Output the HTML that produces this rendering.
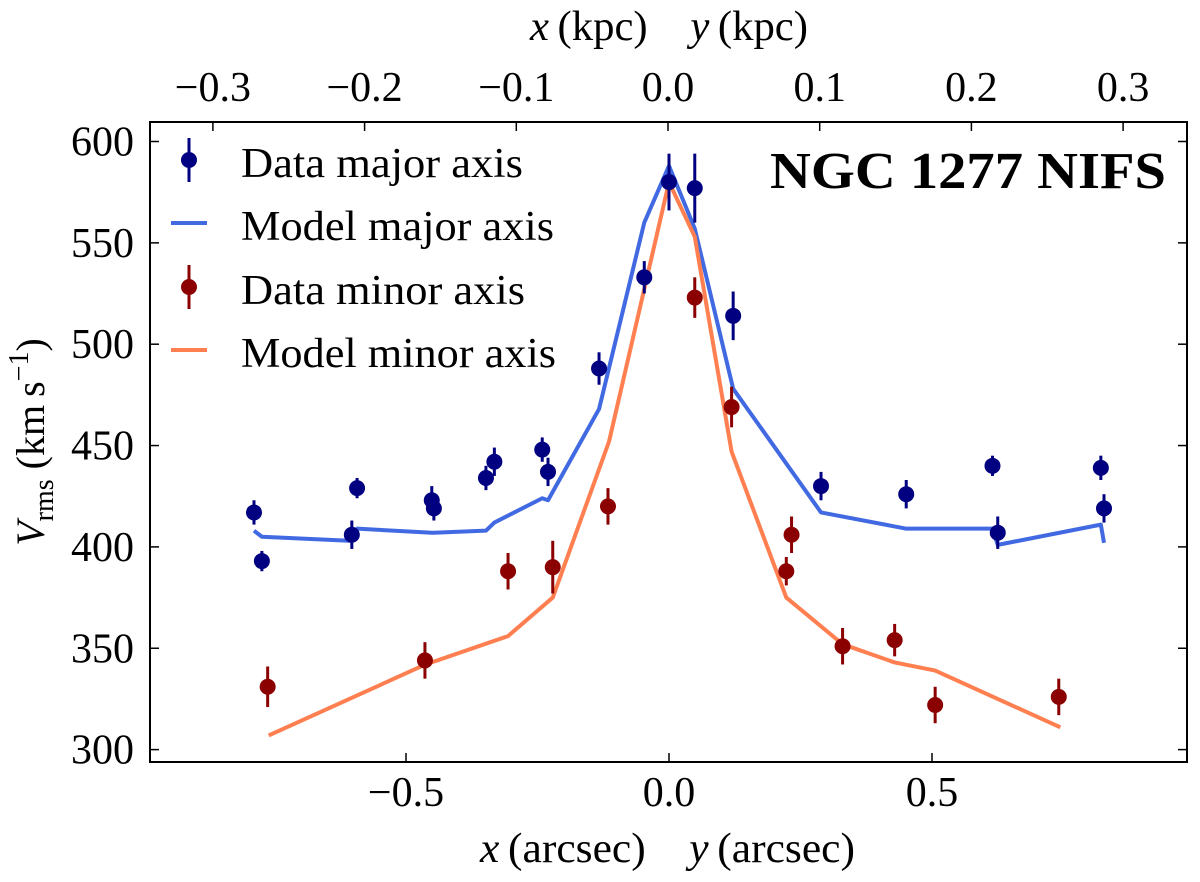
<!DOCTYPE html>
<html><head><meta charset="utf-8"><style>
body{margin:0;background:#fff;}
svg text{font-family:"Liberation Serif",serif;}
</style></head><body>
<svg id="chart" width="1200" height="877" xmlns="http://www.w3.org/2000/svg"></svg>
<script>
const majorX=[-0.789,-0.774,-0.603,-0.593,-0.451,-0.447,-0.348,-0.332,-0.241,-0.230,-0.133,-0.047,0,0.049,0.122,0.289,0.451,0.615,0.625,0.821,0.827];
const majorY=[417,393,406,429,423,419,434,442,448,437,488,533,580,577,514,430,426,440,407,439,419];
const majorErr=[6,5,7,5,7,6,6,7,6,7,8,8,14,17,12,7,7,5,8,6,7];
const minorX=[-0.763,-0.464,-0.306,-0.221,-0.116,0.049,0.119,0.223,0.233,0.330,0.429,0.506,0.741];
const minorY=[331,344,388,390,420,523,469,388,406,351,354,322,326];
const minorErr=[10,9,9,13,9,10,10,7,9,9,8,9,9];
const majorModelX=[-0.789,-0.774,-0.603,-0.593,-0.451,-0.447,-0.348,-0.332,-0.241,-0.230,-0.133,-0.047,0,0.049,0.122,0.289,0.451,0.615,0.625,0.821,0.827];
const majorModelY=[408,405,403,409,407,407,408,412,424,423,468,560,588,557,478,417,409,409,401,411,402];
const minorModelX=[-0.761,-0.463,-0.306,-0.221,-0.114,0,0.049,0.119,0.223,0.330,0.429,0.506,0.744];
const minorModelY=[307,342,356,375,452,580,553,447,375,352,343,339,311];
const bottomTicks=[-0.5,0.0,0.5];
const topTicks=[-0.3,-0.2,-0.1,0.0,0.1,0.2,0.3];
const yTicks=[300,350,400,450,500,550,600];

const NS="http://www.w3.org/2000/svg";
const svg=document.getElementById('chart');
const L=150,R=1187,T=122,B=762;
const X=a=>669+a*526;
const XT=k=>668+k*1517;
const Y=v=>141.5+(600-v)*2.027;
function el(t,a,p){const e=document.createElementNS(NS,t);for(const k in a)e.setAttribute(k,a[k]);(p||svg).appendChild(e);return e;}
function txt(s,x,y,size,anchor,p){const e=el('text',{x:x,y:y,'font-size':size,'text-anchor':anchor||'middle'},p);e.textContent=s;return e;}
function fit(e,w){e.setAttribute('textLength',w);e.setAttribute('lengthAdjust','spacingAndGlyphs');return e;}

const frame=el('rect',{x:L,y:T,width:R-L,height:B-T,fill:'none',stroke:'#000','stroke-width':2});



const fmt=v=>(v<0?'\u2212':'')+Math.abs(v).toFixed(1);
bottomTicks.forEach(t=>{el('line',{x1:X(t),x2:X(t),y1:B,y2:B-9,stroke:'#000','stroke-width':1.5});
 const e=txt(fmt(t),X(t),806,42);});
topTicks.forEach(t=>{el('line',{x1:XT(t),x2:XT(t),y1:T,y2:T+9,stroke:'#000','stroke-width':1.5});
 const e=txt(fmt(t),XT(t),101,42);});
yTicks.forEach(t=>{el('line',{x1:L,x2:L+9,y1:Y(t),y2:Y(t),stroke:'#000','stroke-width':1.5});
 el('line',{x1:R,x2:R-9,y1:Y(t),y2:Y(t),stroke:'#000','stroke-width':1.5});
 const e=txt(String(t),134,Y(t)+14,42,'end');});

function line(xs,ys,color,name){const d=xs.map((x,i)=>(i?'L':'M')+X(x)+','+Y(ys[i])).join('');
 const e=el('path',{d:d,fill:'none',stroke:color,'stroke-width':4,'stroke-linejoin':'round'});
 }
line(majorModelX,majorModelY,'#4169e1','model-major-line');
line(minorModelX,minorModelY,'#ff7f50','model-minor-line');
function pts(xs,ys,es,color,name){xs.forEach((x,i)=>{
 el('line',{x1:X(x),x2:X(x),y1:Y(ys[i]-es[i]),y2:Y(ys[i]+es[i]),stroke:color,'stroke-width':3});
 const c=el('circle',{cx:X(x),cy:Y(ys[i]),r:8,fill:color});
 });}
pts(majorX,majorY,majorErr,'#000080','data-major-point');
pts(minorX,minorY,minorErr,'#8b0000','data-minor-point');

// legend
const lg=el('g',{});
el('line',{x1:189,x2:189,y1:138,y2:182,stroke:'#000080','stroke-width':3},lg);el('circle',{cx:189,cy:160,r:8,fill:'#000080'},lg);
fit(txt('Data major axis',241,177,42,'start',lg),282);
el('line',{x1:171,x2:207,y1:223,y2:223,stroke:'#4169e1','stroke-width':4},lg);
fit(txt('Model major axis',241,240,42,'start',lg),313);
el('line',{x1:189,x2:189,y1:265,y2:309,stroke:'#8b0000','stroke-width':3},lg);el('circle',{cx:189,cy:287,r:8,fill:'#8b0000'},lg);
fit(txt('Data minor axis',241,304,42,'start',lg),284);
el('line',{x1:171,x2:207,y1:350,y2:350,stroke:'#ff7f50','stroke-width':4},lg);
fit(txt('Model minor axis',241,367,42,'start',lg),315);

const title=fit(txt('NGC 1277 NIFS',1166,188,52,'end'),396);title.setAttribute('font-weight','bold');


const xl=el('text',{x:480,y:862,'font-size':42,'text-anchor':'start',textLength:375,lengthAdjust:'spacingAndGlyphs'});
xl.innerHTML='<tspan font-style="italic">x</tspan>\u2009(arcsec)\u2003<tspan font-style="italic">y</tspan>\u2009(arcsec)';

const tl=el('text',{x:530,y:40,'font-size':42,'text-anchor':'start',textLength:278,lengthAdjust:'spacingAndGlyphs'});
tl.innerHTML='<tspan font-style="italic">x</tspan>\u2009(kpc)\u2003<tspan font-style="italic">y</tspan>\u2009(kpc)';

const yl=el('text',{x:0,y:0,'font-size':40,'text-anchor':'middle',transform:'translate(44,442) rotate(-90)'});
yl.innerHTML='<tspan font-style="italic">V</tspan><tspan font-size="28" dy="9">rms</tspan><tspan dy="-9"> (km\u2009s</tspan><tspan font-size="28" dy="-16">\u22121</tspan><tspan dy="16">)</tspan>';

</script>
</body></html>
